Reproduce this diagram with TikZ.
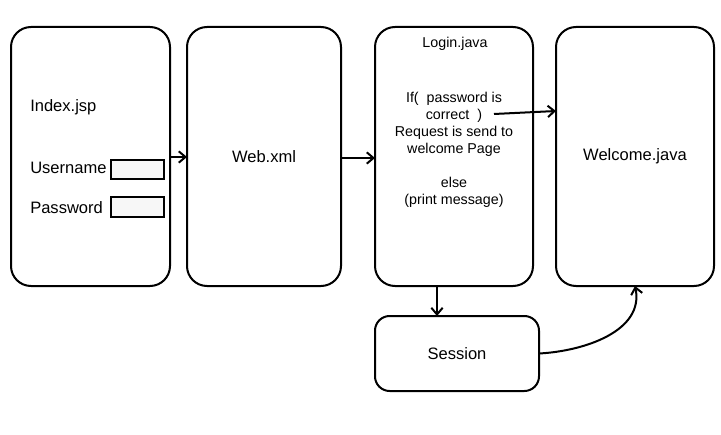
\documentclass[tikz,border=0pt]{standalone}
\usepackage{fontspec}
\setmainfont{Liberation Sans}
\usetikzlibrary{arrows.meta}
\begin{document}
\begin{tikzpicture}[x=0.75pt,y=-0.75pt,
  bigbox/.style={draw, line width=1.5pt, fill=white, rounded corners=15pt, inner sep=0pt, outer sep=0pt,
    minimum height={259*0.75pt}, font=\fontsize{12.4}{14}\selectfont},
  field/.style={draw, line width=1.4pt, fill=gray!6, inner sep=0pt, outer sep=0pt, minimum width={53*0.75pt}},
  lbl/.style={font=\fontsize{12.4}{14}\selectfont, inner sep=0pt},
  conn/.style={line width=1.5pt, -{Straight Barb[length=5pt,width=8.5pt,line width=1.5pt]}}]
\useasboundingbox (0,0) rectangle (721,435);
% boxes
\node[bigbox, minimum width={159*0.75pt}] (index) at (90.5,156.5) {};
\node[bigbox, minimum width={154*0.75pt}] (web) at (264,156.5) {Web.xml};
\node[bigbox, minimum width={158*0.75pt}] (login) at (454,156.5) {};
\node[bigbox, minimum width={158*0.75pt}] (welcome) at (635,156.5) {Welcome.java};
\node[bigbox, rounded corners=11pt, minimum width={164*0.75pt}, minimum height={75*0.75pt}] (session) at (457,353.5) {Session};
% index content
\node[lbl, anchor=west] (indextitle) at (30,107) {Index.jsp};
\node[lbl, anchor=west] (uname) at (30,168) {Username};
\node[lbl, anchor=west] (pword) at (30,208) {Password};
\node[field, minimum height={19*0.75pt}] (ufield) at (137.5,169.5) {};
\node[field, minimum height={20*0.75pt}] (pfield) at (137.5,207) {};
% login content
\node[inner sep=0pt, font=\fontsize{10.7}{12.75}\selectfont] (logintitle) at (455,44) {Login.java};
\node[inner sep=0pt, align=center, font=\fontsize{10.7}{12.75}\selectfont] (logic) at (454,150)
  {If(\ \ password is\\correct\ \ )\\Request is send to\\welcome Page\\[12.75pt]else\\(print message)};
% connectors
\coordinate (lstart) at (494,114);
\coordinate (lend) at (556,111);
\coordinate (ls) at (437,286);
\coordinate (ss) at (437,316);
\draw[conn] (index.east |- 0,157) -- (web.west |- 0,157);
\draw[conn] (web.east |- 0,158) -- (login.west |- 0,158);
\draw[conn] (lstart) -- (lend);
\draw[conn] (ls) -- (ss);
\draw[conn] (session.east) to[out=3,in=-78] (welcome.south);
\end{tikzpicture}
\end{document}
